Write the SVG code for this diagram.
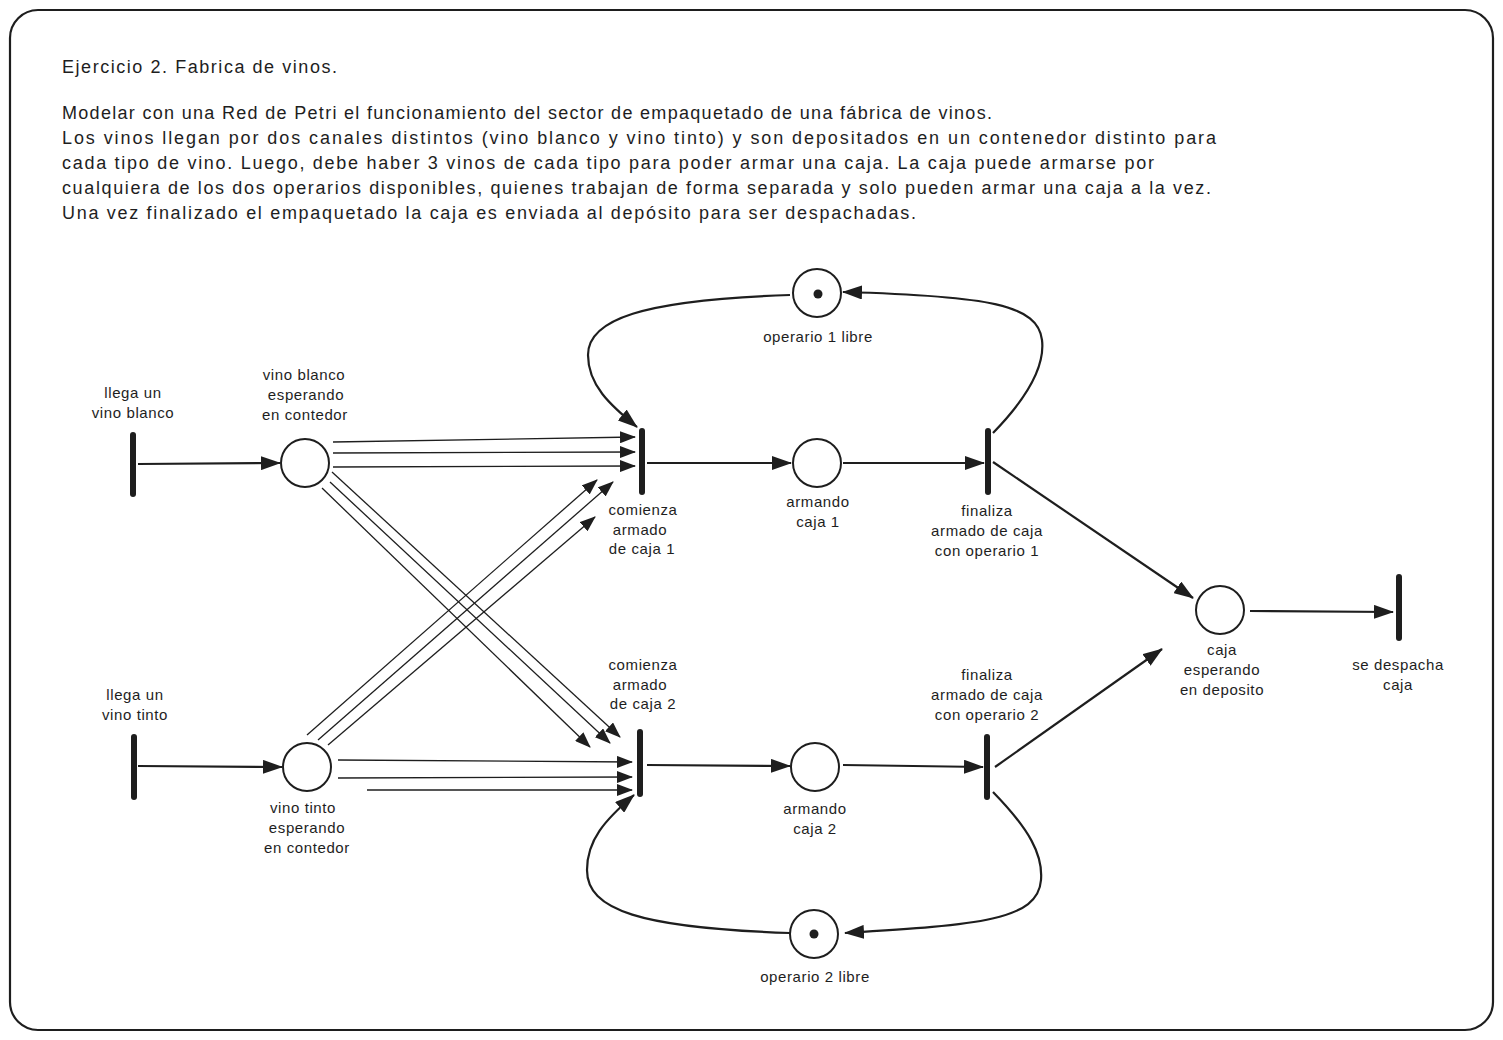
<svg xmlns="http://www.w3.org/2000/svg" width="1503" height="1040" viewBox="0 0 1503 1040">
  <style>
    .frame { fill: #ffffff; stroke: #1e1e1e; stroke-width: 2.2; }
    .txt { font-family: "Liberation Sans", Arial, sans-serif; fill: #1e1e1e; }
    .para { font-size: 18px; }
    .lbl { font-size: 15px; letter-spacing: 0.6px; text-anchor: middle; }
    .place { fill: #ffffff; stroke: #1e1e1e; stroke-width: 2; }
    .token { fill: #1e1e1e; }
    .bar { stroke: #1e1e1e; stroke-width: 6; stroke-linecap: round; }
    .arc { fill: none; stroke: #1e1e1e; stroke-width: 2.2; marker-end: url(#head); }
    .multi { fill: none; stroke: #1e1e1e; stroke-width: 1.3; marker-end: url(#headSmall); }
  </style>
  <defs>
    <marker id="head" viewBox="0 0 20 14" markerWidth="20" markerHeight="14" refX="19" refY="7" orient="auto" markerUnits="userSpaceOnUse">
      <path d="M0,0 L20,7 L0,14 Z" fill="#1e1e1e"/>
    </marker>
    <marker id="headSmall" viewBox="0 0 16 12" markerWidth="16" markerHeight="12" refX="15" refY="6" orient="auto" markerUnits="userSpaceOnUse">
      <path d="M0,0 L16,6 L0,12 Z" fill="#1e1e1e"/>
    </marker>
  </defs>

  <rect class="frame" x="10" y="10" width="1483" height="1020" rx="28" ry="28"/>

  <!-- statement -->
  <g id="statement" class="txt para">
    <text x="62" y="73" textLength="275" lengthAdjust="spacing">Ejercicio 2. Fabrica de vinos.</text>
    <text x="62" y="119" textLength="930" lengthAdjust="spacing">Modelar con una Red de Petri el funcionamiento del sector de empaquetado de una fábrica de vinos.</text>
    <text x="62" y="144" textLength="1154" lengthAdjust="spacing">Los vinos llegan por dos canales distintos (vino blanco y vino tinto) y son depositados en un contenedor distinto para</text>
    <text x="62" y="169" textLength="1092" lengthAdjust="spacing">cada tipo de vino. Luego, debe haber 3 vinos de cada tipo para poder armar una caja. La caja puede armarse por</text>
    <text x="62" y="194" textLength="1149" lengthAdjust="spacing">cualquiera de los dos operarios disponibles, quienes trabajan de forma separada y solo pueden armar una caja a la vez.</text>
    <text x="62" y="219" textLength="854" lengthAdjust="spacing">Una vez finalizado el empaquetado la caja es enviada al depósito para ser despachadas.</text>
  </g>

  <!-- arcs -->
  <g id="connectors">
    <line class="arc" x1="138" y1="464" x2="280" y2="463"/>
    <line class="arc" x1="138" y1="766" x2="282" y2="767"/>

    <!-- vino blanco -> comienza 1 (x3) -->
    <line class="multi" x1="333" y1="442" x2="635" y2="437"/>
    <line class="multi" x1="333" y1="453" x2="635" y2="452"/>
    <line class="multi" x1="333" y1="467" x2="635" y2="466"/>
    <!-- vino blanco -> comienza 2 (x3) -->
    <line class="multi" x1="332" y1="472" x2="620" y2="737"/>
    <line class="multi" x1="330" y1="482" x2="610" y2="743"/>
    <line class="multi" x1="322" y1="488" x2="590" y2="747"/>
    <!-- vino tinto -> comienza 1 (x3) -->
    <line class="multi" x1="307" y1="735" x2="597" y2="480"/>
    <line class="multi" x1="318" y1="740" x2="613" y2="482"/>
    <line class="multi" x1="328" y1="745" x2="595" y2="517"/>
    <!-- vino tinto -> comienza 2 (x3) -->
    <line class="multi" x1="338" y1="760" x2="632" y2="762"/>
    <line class="multi" x1="338" y1="778" x2="632" y2="777"/>
    <line class="multi" x1="367" y1="790" x2="632" y2="790"/>

    <!-- operator 1 cycle -->
    <line class="arc" x1="647" y1="463" x2="791" y2="463"/>
    <line class="arc" x1="843" y1="463" x2="984" y2="463"/>
    <path class="arc" d="M 993 433 C 1030 395 1045 365 1042 340 C 1038 305 990 296 843 292"/>
    <path class="arc" d="M 790 295 C 640 300 588 320 588 355 C 588 385 610 405 637 427"/>

    <!-- operator 2 cycle -->
    <line class="arc" x1="647" y1="765" x2="790" y2="766"/>
    <line class="arc" x1="843" y1="765" x2="983" y2="767"/>
    <path class="arc" d="M 993 792 C 1030 830 1043 855 1041 880 C 1038 920 980 925 845 933"/>
    <path class="arc" d="M 790 933 C 640 928 587 910 587 870 C 587 840 605 820 634 795"/>

    <!-- to warehouse and dispatch -->
    <line class="arc" x1="993" y1="462" x2="1193" y2="598"/>
    <line class="arc" x1="995" y1="767" x2="1162" y2="649"/>
    <line class="arc" x1="1250" y1="611" x2="1393" y2="612"/>
  </g>

  <!-- transitions and places -->
  <g id="t-llega-blanco">
    <line class="bar" x1="133" y1="435" x2="133" y2="494"/>
    <text class="txt lbl" x="133" y="398">llega un</text>
    <text class="txt lbl" x="133" y="418">vino blanco</text>
  </g>
  <g id="p-vino-blanco">
    <circle class="place" cx="305" cy="463" r="24"/>
    <text class="txt lbl" x="304" y="380">vino blanco</text>
    <text class="txt lbl" x="306" y="400">esperando</text>
    <text class="txt lbl" x="305" y="420">en contedor</text>
  </g>
  <g id="t-llega-tinto">
    <line class="bar" x1="134" y1="737" x2="134" y2="797"/>
    <text class="txt lbl" x="135" y="700">llega un</text>
    <text class="txt lbl" x="135" y="720">vino tinto</text>
  </g>
  <g id="p-vino-tinto">
    <circle class="place" cx="307" cy="767" r="24"/>
    <text class="txt lbl" x="303" y="813">vino tinto</text>
    <text class="txt lbl" x="307" y="833">esperando</text>
    <text class="txt lbl" x="307" y="853">en contedor</text>
  </g>
  <g id="t-comienza-1">
    <line class="bar" x1="642" y1="431" x2="642" y2="492"/>
    <text class="txt lbl" x="643" y="515">comienza</text>
    <text class="txt lbl" x="640" y="535">armado</text>
    <text class="txt lbl" x="642" y="554">de caja 1</text>
  </g>
  <g id="p-armando-1">
    <circle class="place" cx="817" cy="463" r="24"/>
    <text class="txt lbl" x="818" y="507">armando</text>
    <text class="txt lbl" x="818" y="527">caja 1</text>
  </g>
  <g id="t-finaliza-1">
    <line class="bar" x1="988" y1="431" x2="988" y2="492"/>
    <text class="txt lbl" x="987" y="516">finaliza</text>
    <text class="txt lbl" x="987" y="536">armado de caja</text>
    <text class="txt lbl" x="987" y="556">con operario 1</text>
  </g>
  <g id="p-operario-1">
    <circle class="place" cx="817" cy="293" r="24"/>
    <circle class="token" cx="818" cy="294" r="4.5"/>
    <text class="txt lbl" x="818" y="342">operario 1 libre</text>
  </g>
  <g id="t-comienza-2">
    <line class="bar" x1="640" y1="732" x2="640" y2="794"/>
    <text class="txt lbl" x="643" y="670">comienza</text>
    <text class="txt lbl" x="640" y="690">armado</text>
    <text class="txt lbl" x="643" y="709">de caja 2</text>
  </g>
  <g id="p-armando-2">
    <circle class="place" cx="815" cy="767" r="24"/>
    <text class="txt lbl" x="815" y="814">armando</text>
    <text class="txt lbl" x="815" y="834">caja 2</text>
  </g>
  <g id="t-finaliza-2">
    <line class="bar" x1="987" y1="737" x2="987" y2="797"/>
    <text class="txt lbl" x="987" y="680">finaliza</text>
    <text class="txt lbl" x="987" y="700">armado de caja</text>
    <text class="txt lbl" x="987" y="720">con operario 2</text>
  </g>
  <g id="p-operario-2">
    <circle class="place" cx="814" cy="934" r="24"/>
    <circle class="token" cx="814" cy="934" r="4.5"/>
    <text class="txt lbl" x="815" y="982">operario 2 libre</text>
  </g>
  <g id="p-caja-deposito">
    <circle class="place" cx="1220" cy="610" r="24"/>
    <text class="txt lbl" x="1222" y="655">caja</text>
    <text class="txt lbl" x="1222" y="675">esperando</text>
    <text class="txt lbl" x="1222" y="695">en deposito</text>
  </g>
  <g id="t-despacha">
    <line class="bar" x1="1399" y1="577" x2="1399" y2="638"/>
    <text class="txt lbl" x="1398" y="670">se despacha</text>
    <text class="txt lbl" x="1398" y="690">caja</text>
  </g>
</svg>
